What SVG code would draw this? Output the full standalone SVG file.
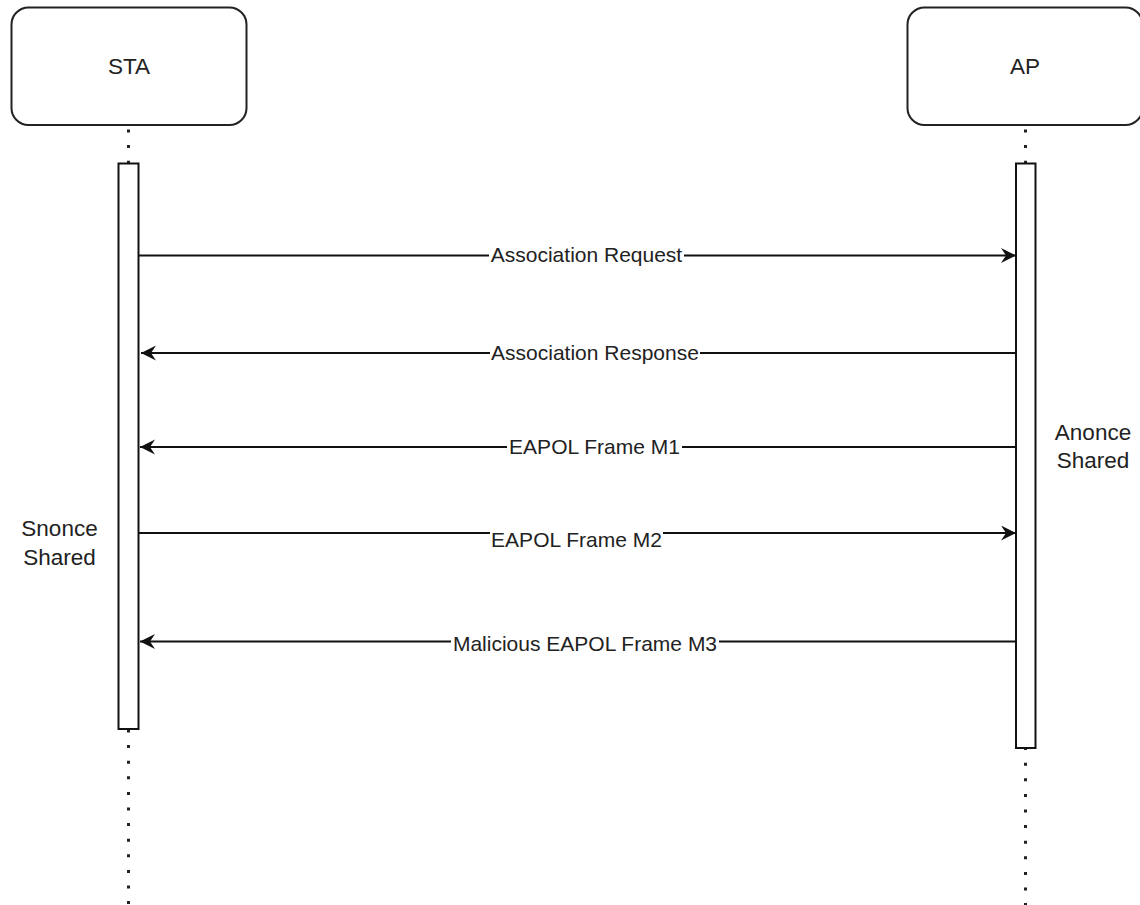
<svg xmlns="http://www.w3.org/2000/svg" width="1140" height="905" viewBox="0 0 1140 905">
  <style>
    .head { fill: #ffffff; stroke: #222222; stroke-width: 2; }
    .bar { fill: #ffffff; stroke: #111111; stroke-width: 2; }
    .life { fill: none; stroke: #222222; stroke-width: 3; stroke-dasharray: 3 12.6; }
    .msg { fill: none; stroke: #111111; stroke-width: 2; }
    .txt { font-family: "Liberation Sans", Arial, sans-serif; fill: #222222; }
    .lbl { font-size: 21px; text-anchor: middle; }
    .big { font-size: 22.5px; text-anchor: middle; }
    .bg { fill: #ffffff; }
  </style>
  <defs>
    <marker id="arrow" markerUnits="userSpaceOnUse" markerWidth="16" markerHeight="16" refX="15" refY="7.5" orient="auto" viewBox="0 0 16 16">
      <path d="M0,0 L15,7.5 L0,15 L5,7.5 Z" fill="#111111"/>
    </marker>
  </defs>
  <rect width="1140" height="905" fill="#ffffff"/>

  <!-- lifelines (dotted) -->
  <g id="lifelines">
    <line class="life" x1="128.5" y1="129.5" x2="128.5" y2="163"/>
    <line class="life" x1="128.5" y1="729.5" x2="128.5" y2="905"/>
    <line class="life" x1="1025.5" y1="129.5" x2="1025.5" y2="163"/>
    <line class="life" x1="1025.5" y1="747.1" x2="1025.5" y2="905"/>
  </g>

  <!-- STA participant -->
  <g id="sta">
    <rect class="head" x="11.5" y="7.5" width="235" height="117.5" rx="17" ry="17"/>
    <text class="txt big" x="129" y="74">STA</text>
    <rect class="bar" x="118.5" y="163.5" width="20" height="565.5"/>
  </g>

  <!-- AP participant -->
  <g id="ap">
    <rect class="head" x="907.5" y="7.5" width="235" height="117.5" rx="17" ry="17"/>
    <text class="txt big" x="1025" y="74">AP</text>
    <rect class="bar" x="1016" y="163.5" width="19.5" height="584.5"/>
  </g>

  <!-- messages -->
  <g id="connectors">
    <line class="msg" x1="138.5" y1="255.5" x2="1016" y2="255.5" marker-end="url(#arrow)"/>
    <line class="msg" x1="1016" y1="353" x2="141" y2="353" marker-end="url(#arrow)"/>
    <line class="msg" x1="1016" y1="447" x2="140" y2="447" marker-end="url(#arrow)"/>
    <line class="msg" x1="138.5" y1="533" x2="1016" y2="533" marker-end="url(#arrow)"/>
    <line class="msg" x1="1016" y1="641.5" x2="140" y2="641.5" marker-end="url(#arrow)"/>

    <rect class="bg" x="489" y="245" width="195" height="20"/>
    <text class="txt lbl" x="586.5" y="262">Association Request</text>

    <rect class="bg" x="490" y="343" width="210" height="20"/>
    <text class="txt lbl" x="595" y="360">Association Response</text>

    <rect class="bg" x="507" y="437" width="175" height="20"/>
    <text class="txt lbl" x="594.5" y="454">EAPOL Frame M1</text>

    <rect class="bg" x="490" y="530" width="173" height="20"/>
    <text class="txt lbl" x="576.5" y="547">EAPOL Frame M2</text>

    <rect class="bg" x="451" y="632" width="268" height="20"/>
    <text class="txt lbl" x="585" y="651">Malicious EAPOL Frame M3</text>
  </g>

  <!-- nonce notes -->
  <g id="snonce">
    <text class="txt big" x="59.5" y="536">Snonce</text>
    <text class="txt big" x="59.5" y="565">Shared</text>
  </g>
  <g id="anonce">
    <text class="txt big" x="1093" y="439.5">Anonce</text>
    <text class="txt big" x="1093" y="467.5">Shared</text>
  </g>
</svg>
